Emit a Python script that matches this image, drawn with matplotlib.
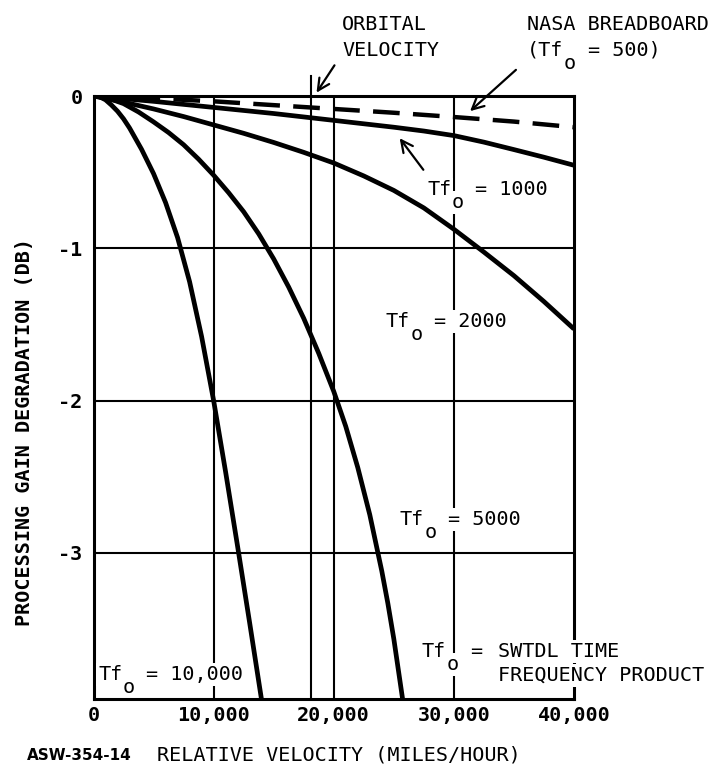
import matplotlib
matplotlib.use("Agg")
import matplotlib.pyplot as plt
from matplotlib.patches import FancyArrowPatch

# relative velocity (mph) vs processing gain degradation (dB)
tf500_v = [0, 5000, 10000, 15000, 20000, 25000, 30000, 35000, 40000]
tf500_db = [0, -0.015, -0.035, -0.06, -0.085, -0.11, -0.138, -0.168, -0.205]

tf1000_v = [0, 5000, 10000, 15000, 20000, 25000, 27500, 30000, 32500, 35000, 37500, 40000]
tf1000_db = [0, -0.035, -0.075, -0.115, -0.16, -0.205, -0.23, -0.26, -0.303, -0.352, -0.402, -0.455]

tf2000_v = [0, 2500, 5000, 7500, 10000, 12500, 15000, 17500, 20000, 22500, 25000,
            27500, 30000, 32500, 35000, 37500, 40000]
tf2000_db = [0, -0.04, -0.085, -0.135, -0.19, -0.245, -0.305, -0.37, -0.44, -0.525, -0.62,
             -0.735, -0.875, -1.025, -1.18, -1.35, -1.53]

tf5000_v = [0, 1250, 2500, 3750, 5000, 6250, 7500, 8750, 10000, 11250, 12500, 13750, 15000,
            16250, 17500, 18750, 20000, 21000, 22000, 23000, 24000, 24500, 25000, 25750]
tf5000_db = [0, -0.015, -0.05, -0.105, -0.17, -0.24, -0.32, -0.415, -0.52, -0.635, -0.76, -0.905,
             -1.07, -1.255, -1.46, -1.69, -1.94, -2.17, -2.44, -2.75, -3.12, -3.33, -3.565, -3.97]

tf10000_v = [0, 500, 1000, 1500, 2000, 2500, 3000, 3500, 4000, 5000, 6000, 7000, 8000,
             9000, 10000, 11000, 12000, 13000, 14000]
tf10000_db = [0, -0.005, -0.025, -0.06, -0.10, -0.15, -0.21, -0.28, -0.35, -0.51, -0.70, -0.93,
              -1.22, -1.58, -2.0, -2.47, -2.96, -3.46, -3.97]

orbital_velocity = 18130

x_ticks = [0, 10000, 20000, 30000, 40000]
x_tick_labels = ["0", "10,000", "20,000", "30,000", "40,000"]
y_ticks = [0, -1, -2, -3]
y_tick_labels = ["0", "-1", "-2", "-3"]

plt.rcParams["font.family"] = ["DejaVu Sans Mono"]

W, H = 714, 766
fig = plt.figure(figsize=(W / 100, H / 100), dpi=100)
ax = fig.add_axes([93.5 / W, 1 - 699 / H, (574 - 93.5) / W, (699 - 96) / H])
ax.set_xlim(0, 40000)
ax.set_ylim(-3.96, 0)


def px(x, y):
    # image pixels (top-left origin) -> figure fraction
    return x / W, 1 - y / H


# grid
for yv in [-1, -2, -3]:
    ax.axhline(yv, color="black", lw=1.5, zorder=1)
for xv in [10000, 20000, 30000]:
    ax.axvline(xv, color="black", lw=1.5, zorder=1)
ax.plot([orbital_velocity, orbital_velocity], [-3.96, 0.13], color="black",
        lw=1.5, clip_on=False, zorder=1)

# curves
ax.plot(tf500_v, tf500_db, color="black", lw=3.2, dashes=(6, 3), zorder=4)
for v, db in [(tf1000_v, tf1000_db), (tf2000_v, tf2000_db),
              (tf5000_v, tf5000_db), (tf10000_v, tf10000_db)]:
    ax.plot(v, db, color="black", lw=3.4, zorder=4, solid_capstyle="butt")

for s in ax.spines.values():
    s.set_linewidth(2.2)

ax.set_xticks(x_ticks)
ax.set_xticklabels(x_tick_labels, fontsize=14.5, fontweight="bold")
ax.set_yticks(y_ticks)
ax.set_yticklabels(y_tick_labels, fontsize=14.5, fontweight="bold")
ax.tick_params(axis="x", length=0, pad=5)
ax.tick_params(axis="y", length=0, pad=8)

fs = 14.5
adv = 0.602 * fs * 100 / 72  # monospace character advance in pixels
box = dict(facecolor="white", edgecolor="none", pad=1.5)


def tf_text(x, y, pre, post, boxed=True, sub_boxed=True):
    # "pre" + lowered "o" + blank + "post", laid out on the monospace grid
    kw = dict(fontsize=fs, va="baseline", zorder=3)
    if boxed:
        kw["bbox"] = box
    n = len(pre)
    fig.text(*px(x, y), pre, **kw)
    fig.text(*px(x + n * adv, y + 13), "o", fontsize=fs, va="baseline", zorder=3,
             bbox=box if (boxed and sub_boxed) else None)
    fig.text(*px(x + (n + 2) * adv, y), post, **kw)


tf_text(427, 195, "Tf", "= 1000")
tf_text(386, 327, "Tf", "= 2000")
tf_text(400, 525, "Tf", "= 5000")
tf_text(98, 680, "Tf", "= 10,000", sub_boxed=False)
tf_text(422, 657, "Tf", "=")
fig.text(*px(498, 657), "SWTDL TIME", fontsize=fs, va="baseline", bbox=box, zorder=3)
fig.text(*px(498, 681), "FREQUENCY PRODUCT", fontsize=fs, va="baseline", bbox=box, zorder=3)

fig.text(*px(342, 30), "ORBITAL", fontsize=fs, va="baseline")
fig.text(*px(342, 56), "VELOCITY", fontsize=fs, va="baseline")
fig.text(*px(527, 30), "NASA BREADBOARD", fontsize=fs, va="baseline")
tf_text(527, 56, "(Tf", "= 500)", boxed=False)

arrow = dict(arrowstyle="->,head_length=0.6,head_width=0.3", lw=1.6, color="black",
             transform=fig.transFigure, mutation_scale=14)
fig.add_artist(FancyArrowPatch(px(336, 63), px(315, 95), **arrow))
fig.add_artist(FancyArrowPatch(px(518, 68), px(468, 113), **arrow))
fig.add_artist(FancyArrowPatch(px(425, 172), px(398, 136), **arrow))

fig.text(*px(25, 432), "PROCESSING GAIN DEGRADATION (DB)", fontsize=fs,
         fontweight="bold", rotation=90, ha="center", va="center")
fig.text(*px(27, 755), "ASW-354-14", fontsize=11, fontweight="bold",
         family="DejaVu Sans", va="center")
fig.text(*px(157, 755), "RELATIVE VELOCITY (MILES/HOUR)", fontsize=fs, va="center")

fig.savefig("out.png", dpi=100)
